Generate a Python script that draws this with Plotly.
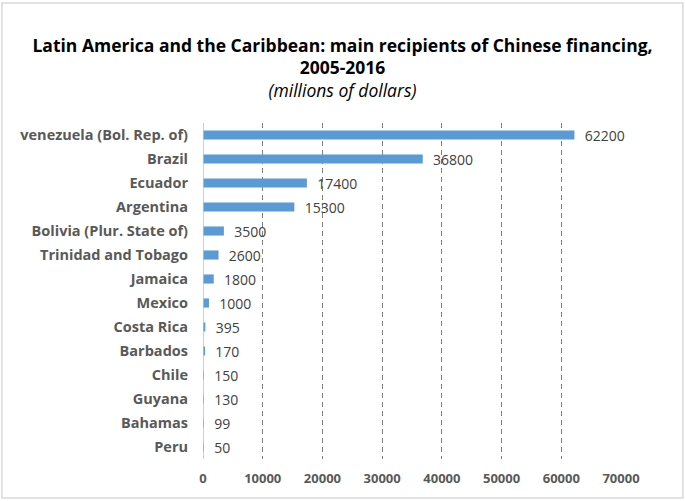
import plotly.graph_objects as go

countries = ["venezuela (Bol. Rep. of)", "Brazil", "Ecuador", "Argentina",
             "Bolivia (Plur. State of)", "Trinidad and Tobago", "Jamaica",
             "Mexico", "Costa Rica", "Barbados", "Chile", "Guyana",
             "Bahamas", "Peru"]
amounts = [62200, 36800, 17400, 15300, 3500, 2600, 1800, 1000, 395, 170,
           150, 130, 99, 50]
x_ticks = [0, 10000, 20000, 30000, 40000, 50000, 60000, 70000]

font_main = "Open Sans, Liberation Sans, sans-serif"

fig = go.Figure()
fig.add_trace(go.Bar(
    x=amounts, y=countries, orientation="h",
    marker=dict(color="#5b9bd5", line=dict(width=0)),
    text=["\u00a0\u00a0" + str(v) for v in amounts], textposition="outside",
    textfont=dict(size=14, color="#404040", family=font_main),
    constraintext="none",
    cliponaxis=False,
))

fig.update_xaxes(range=[0, 70000], tickvals=x_ticks,
                 ticktext=["<b>%d</b>" % t for t in x_ticks],
                 showgrid=True, gridcolor="#808080", griddash="5px,4px", gridwidth=1,
                 zeroline=False, showline=False, ticks="",
                 tickfont=dict(size=13, color="#595959", family=font_main),
                 ticklabelstandoff=10)
fig.update_yaxes(autorange="reversed", showgrid=False, zeroline=False,
                 showline=False, ticks="",
                 tickvals=countries,
                 ticktext=["<b>%s</b>" % c for c in countries],
                 tickfont=dict(size=14.5, color="#595959", family=font_main),
                 ticklabelstandoff=14)

# vertical axis line at zero
fig.add_shape(type="line", xref="x", yref="paper", x0=0, x1=0, y0=0, y1=1,
              line=dict(color="#bfbfbf", width=1.5))
# outer border
fig.add_shape(type="rect", xref="paper", yref="paper", x0=-0.481, x1=1.148,
              y0=-0.116, y1=1.357, line=dict(color="#d9d9d9", width=1.5),
              layer="below")

fig.update_layout(
    width=685, height=501,
    margin=dict(l=203, r=64, t=123, b=42),
    bargap=0.62,
    showlegend=False,
    plot_bgcolor="white", paper_bgcolor="white",
    font=dict(family=font_main),
    title=dict(
        text="<b>Latin America and the Caribbean: main recipients of Chinese financing,</b><br>"
             "<b>2005-2016</b><br><i>(millions of dollars)</i>",
        x=0.5, xanchor="center", y=0.897, yanchor="top",
        font=dict(size=17.5, color="#000000", family=font_main),
    ),
)

fig.write_html("out.html", config={"displayModeBar": False},
               post_script="document.body.style.margin='0';")
